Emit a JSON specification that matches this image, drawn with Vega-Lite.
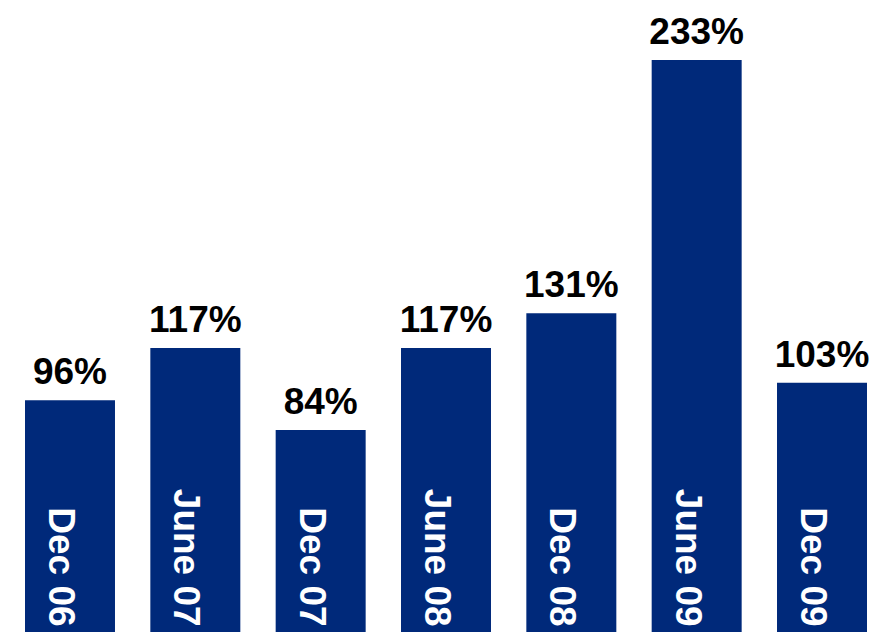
{
  "$schema": "https://vega.github.io/schema/vega-lite/v6.json",
  "width": 842,
  "height": 632,
  "autosize": {"type": "none"},
  "padding": {"left": 25, "right": 10, "top": 0, "bottom": 0},
  "background": "white",
  "config": {"view": {"stroke": null}},
  "data": {
    "values": [
      {"period": "Dec 06", "value": 96, "label": "96%"},
      {"period": "June 07", "value": 117, "label": "117%"},
      {"period": "Dec 07", "value": 84, "label": "84%"},
      {"period": "June 08", "value": 117, "label": "117%"},
      {"period": "Dec 08", "value": 131, "label": "131%"},
      {"period": "June 09", "value": 233, "label": "233%"},
      {"period": "Dec 09", "value": 103, "label": "103%"}
    ]
  },
  "encoding": {
    "x": {
      "field": "period",
      "type": "nominal",
      "sort": null,
      "axis": null,
      "scale": {"paddingInner": 0.282, "paddingOuter": 0}
    }
  },
  "layer": [
    {
      "mark": {"type": "bar", "color": "#00297A", "clip": true},
      "encoding": {
        "y": {
          "field": "value",
          "type": "quantitative",
          "axis": null,
          "scale": {"domain": [2.66, 257.2], "zero": false, "nice": false}
        },
        "y2": {"datum": 0}
      }
    },
    {
      "mark": {
        "type": "text",
        "font": "Liberation Sans",
        "fontWeight": "bold",
        "fontSize": 37,
        "color": "black",
        "baseline": "alphabetic",
        "align": "center",
        "dy": -16
      },
      "encoding": {
        "y": {"field": "value", "type": "quantitative"},
        "text": {"field": "label"}
      }
    },
    {
      "mark": {
        "type": "text",
        "font": "Liberation Sans",
        "fontWeight": "bold",
        "fontSize": 37,
        "color": "white",
        "angle": 90,
        "align": "right",
        "baseline": "alphabetic",
        "dx": -12,
        "dy": 21
      },
      "encoding": {
        "y": {"datum": 0},
        "text": {"field": "period"}
      }
    }
  ]
}
